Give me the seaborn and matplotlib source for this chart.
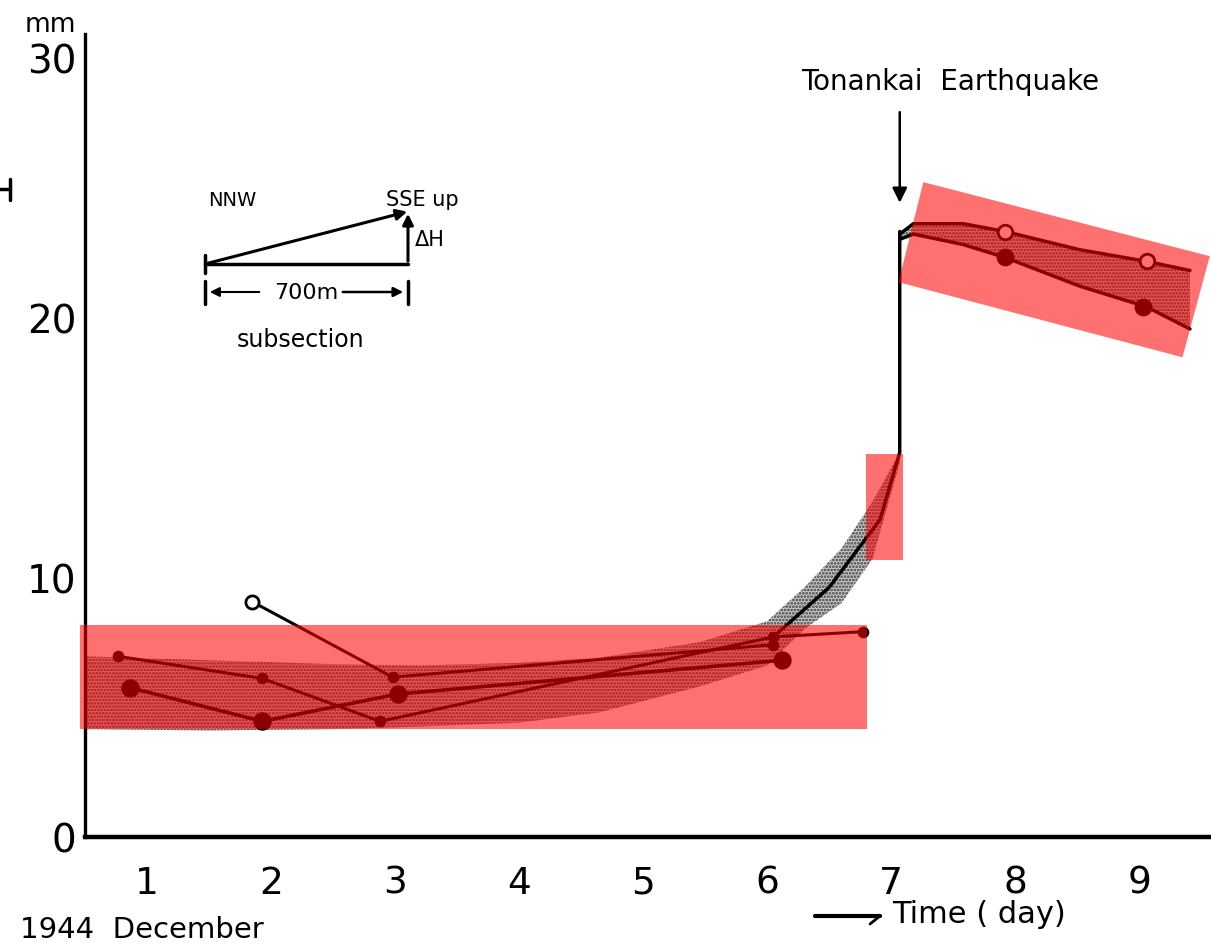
import numpy as np
import pandas as pd
import matplotlib
matplotlib.use("Agg")
import matplotlib.pyplot as plt
import seaborn as sns
from matplotlib.patches import Rectangle, Polygon, FancyArrowPatch
from matplotlib.lines import Line2D

# ---------------- data ----------------
day_labels = ["1", "2", "3", "4", "5", "6", "7", "8", "9"]
day_centers = [1, 2, 3, 4, 5, 6, 7, 8, 9]
day_bounds = [1.5, 2.5, 3.5, 4.5, 5.5, 6.5, 7.5, 8.5, 9.5]
y_major = [0, 10, 20, 30]
y_minor = [25]

# stippled band before the earthquake (lower / upper edges, mm)
pre_band_x = [0.5, 1.5, 2.5, 3.2, 4.0, 4.65, 5.46, 6.0, 6.3, 6.6, 6.85, 7.07]
pre_band_lo = [4.15, 4.1, 4.15, 4.25, 4.4, 4.8, 5.8, 6.6, 8.0, 9.0, 10.7, 14.4]
pre_band_hi = [6.95, 6.8, 6.65, 6.6, 6.7, 6.9, 7.5, 8.3, 9.6, 11.1, 12.9, 14.8]

# stippled band after the earthquake
post_x = [7.07, 7.18, 7.58, 7.92, 8.52, 9.06, 9.41]
post_hi = [23.2, 23.6, 23.6, 23.3, 22.6, 22.15, 21.8]
post_lo = [23.0, 23.2, 22.8, 22.3, 21.2, 20.4, 19.55]
post_open_x = [7.92, 9.06]
post_open_y = [23.3, 22.15]
post_fill_x = [7.92, 9.03]
post_fill_y = [22.3, 20.4]

# survey series before the earthquake
sA_x = [1.85, 2.98, 6.05]
sA_y = [9.05, 6.15, 7.4]
sB_x = [0.77, 1.93, 2.88, 6.05, 6.77]
sB_y = [6.95, 6.1, 4.45, 7.7, 7.9]
sC_x = [0.86, 1.93, 3.02, 6.12]
sC_y = [5.75, 4.45, 5.5, 6.8]

# steep rise to the earthquake
rise_x = [6.05, 6.5, 6.91, 7.07, 7.07]
rise_y = [7.7, 9.6, 12.2, 14.8, 23.3]

quake_day = 7.07

# highlight overlays (data coordinates)
hl1_x = [0.46, 6.81]
hl1_y = [4.14, 8.16]
hl2_x = [6.80, 7.10]
hl2_y = [10.65, 14.75]
hl3_x = [7.26, 9.57, 9.35, 7.06]
hl3_y = [25.2, 22.35, 18.46, 21.35]

# ---------------- figure ----------------
sns.set_style("white")
plt.rcParams["font.family"] = ["DejaVu Sans"]
plt.rcParams["hatch.linewidth"] = 1.3
for key in ["text.color", "axes.labelcolor", "xtick.color", "ytick.color", "axes.edgecolor"]:
    plt.rcParams[key] = "black"

W, H = 1211, 945
fig = plt.figure(figsize=(W / 100, H / 100), dpi=100)
ax = fig.add_axes([85 / W, 107 / H, (W - 85) / W, (838 - 35) / H])
ax.set_xlim(0.5, 9.58)
ax.set_ylim(0, 30.9)

# bands
ax.fill_between(pre_band_x, pre_band_lo, pre_band_hi, facecolor="#c6c6c6",
                hatch=".....", edgecolor="#3a3a3a", linewidth=0, zorder=1)
ax.fill_between(post_x, post_lo, post_hi, facecolor="#c6c6c6",
                hatch=".....", edgecolor="#3a3a3a", linewidth=0, zorder=1)

k = dict(estimator=None, sort=False, ax=ax, color="black", legend=False)
sns.lineplot(x=post_x, y=post_hi, lw=2.5, **k)
sns.lineplot(x=post_x, y=post_lo, lw=2.5, **k)
sns.scatterplot(x=post_open_x, y=post_open_y, s=110, facecolor="white",
                edgecolor="black", linewidth=2, ax=ax, zorder=4)
sns.scatterplot(x=post_fill_x, y=post_fill_y, s=140, color="black",
                edgecolor="black", ax=ax, zorder=4)

sns.lineplot(x=rise_x, y=rise_y, lw=2.5, **k)

sns.lineplot(x=sA_x, y=sA_y, lw=2.2, **k)
sns.lineplot(x=sB_x, y=sB_y, lw=2.2, **k)
sns.lineplot(x=sC_x, y=sC_y, lw=2.6, **k)
sns.scatterplot(x=sA_x[:1], y=sA_y[:1], s=90, facecolor="white",
                edgecolor="black", linewidth=2, ax=ax, zorder=4)
sns.scatterplot(x=sA_x[1:], y=sA_y[1:], s=60, color="black", edgecolor="black",
                ax=ax, zorder=4)
sns.scatterplot(x=sB_x, y=sB_y, s=60, color="black", edgecolor="black", ax=ax, zorder=4)
sns.scatterplot(x=sC_x, y=sC_y, s=150, color="black", edgecolor="black", ax=ax, zorder=4)

# highlight overlays
ax.add_patch(Rectangle((hl1_x[0], hl1_y[0]), hl1_x[1] - hl1_x[0], hl1_y[1] - hl1_y[0],
                       facecolor="red", alpha=0.56, lw=0, zorder=6, clip_on=False))
ax.add_patch(Rectangle((hl2_x[0], hl2_y[0]), hl2_x[1] - hl2_x[0], hl2_y[1] - hl2_y[0],
                       facecolor="red", alpha=0.56, lw=0, zorder=6, clip_on=False))
ax.add_patch(Polygon(list(zip(hl3_x, hl3_y)), closed=True, facecolor="red",
                     alpha=0.56, lw=0, zorder=6, clip_on=False))

# earthquake annotation
ax.annotate("", xy=(quake_day, 24.3), xytext=(quake_day, 28.0),
            arrowprops=dict(arrowstyle="-|>", color="black", lw=1.8, mutation_scale=22))
ax.text(7.48, 29.1, "Tonankai  Earthquake", fontsize=20, ha="center", va="center")

# axes styling
for s in ["top", "right"]:
    ax.spines[s].set_visible(False)
ax.spines["left"].set_linewidth(2.4)
ax.spines["bottom"].set_linewidth(3.2)
ax.set_yticks(y_major)
ax.set_yticklabels([str(v) for v in y_major])
ax.set_yticks(y_minor, minor=True)
ax.tick_params(axis="y", which="both", direction="in", length=12, width=2.2,
               labelsize=28, pad=6)
ax.set_xticks(day_bounds)
ax.set_xticklabels([""] * len(day_bounds))
ax.set_xticks(day_centers, minor=True)
ax.set_xticklabels(day_labels, minor=True)
ax.tick_params(axis="x", which="major", direction="out", length=12, width=2.2)
ax.tick_params(axis="x", which="minor", length=0, labelsize=27, pad=20)
ax.grid(False)

# ---------------- texts and inset sketch in pixel coordinates ----------------
def fx(x):
    return x / W

def fy(y):
    return 1 - y / H

fig.text(fx(50), fy(25), "mm", fontsize=19, ha="center", va="center")
fig.text(fx(20), fy(930), "1944  December", fontsize=21, ha="left", va="center")
fig.text(fx(892), fy(915), "Time ( day)", fontsize=22, ha="left", va="center")
fig.add_artist(Line2D([fx(815), fx(880)], [fy(917), fy(917)], color="black", lw=3))
fig.add_artist(Line2D([fx(870), fx(880)], [fy(925), fy(917)], color="black", lw=2))

# cut-off mark at left edge
fig.add_artist(Line2D([fx(0), fx(10)], [fy(190), fy(190)], color="black", lw=2.5))
fig.add_artist(Line2D([fx(10), fx(10)], [fy(180), fy(201)], color="black", lw=2.5))

# inset sketch
fig.text(fx(232), fy(200), "NNW", fontsize=14, ha="center", va="center")
fig.text(fx(422), fy(200), "SSE up", fontsize=15, ha="center", va="center")
fig.text(fx(430), fy(240), "ΔH", fontsize=15, ha="center", va="center")
fig.text(fx(300), fy(340), "subsection", fontsize=17, ha="center", va="center")
fig.text(fx(306), fy(293), "700m", fontsize=16, ha="center", va="center")
fig.add_artist(Line2D([fx(205), fx(408)], [fy(265), fy(265)], color="black", lw=2.5))
fig.add_artist(Line2D([fx(205), fx(205)], [fy(256), fy(274)], color="black", lw=2.5))
fig.add_artist(Line2D([fx(205), fx(205)], [fy(282), fy(305)], color="black", lw=2.5))
fig.add_artist(Line2D([fx(408), fx(408)], [fy(282), fy(305)], color="black", lw=2.5))
arrow_kw = dict(arrowstyle="-|>", color="black", lw=2.2, mutation_scale=16)
fig.patches.append(FancyArrowPatch(
    (fx(205), fy(265)), (fx(410), fy(212)), transform=fig.transFigure, **arrow_kw))
fig.patches.append(FancyArrowPatch(
    (fx(408), fy(265)), (fx(408), fy(212)), transform=fig.transFigure, **arrow_kw))
fig.patches.append(FancyArrowPatch(
    (fx(262), fy(293)), (fx(207), fy(293)), transform=fig.transFigure,
    arrowstyle="-|>", color="black", lw=1.5, mutation_scale=14))
fig.patches.append(FancyArrowPatch(
    (fx(340), fy(293)), (fx(406), fy(293)), transform=fig.transFigure,
    arrowstyle="-|>", color="black", lw=1.8, mutation_scale=14))

fig.savefig("out.png", dpi=100)
